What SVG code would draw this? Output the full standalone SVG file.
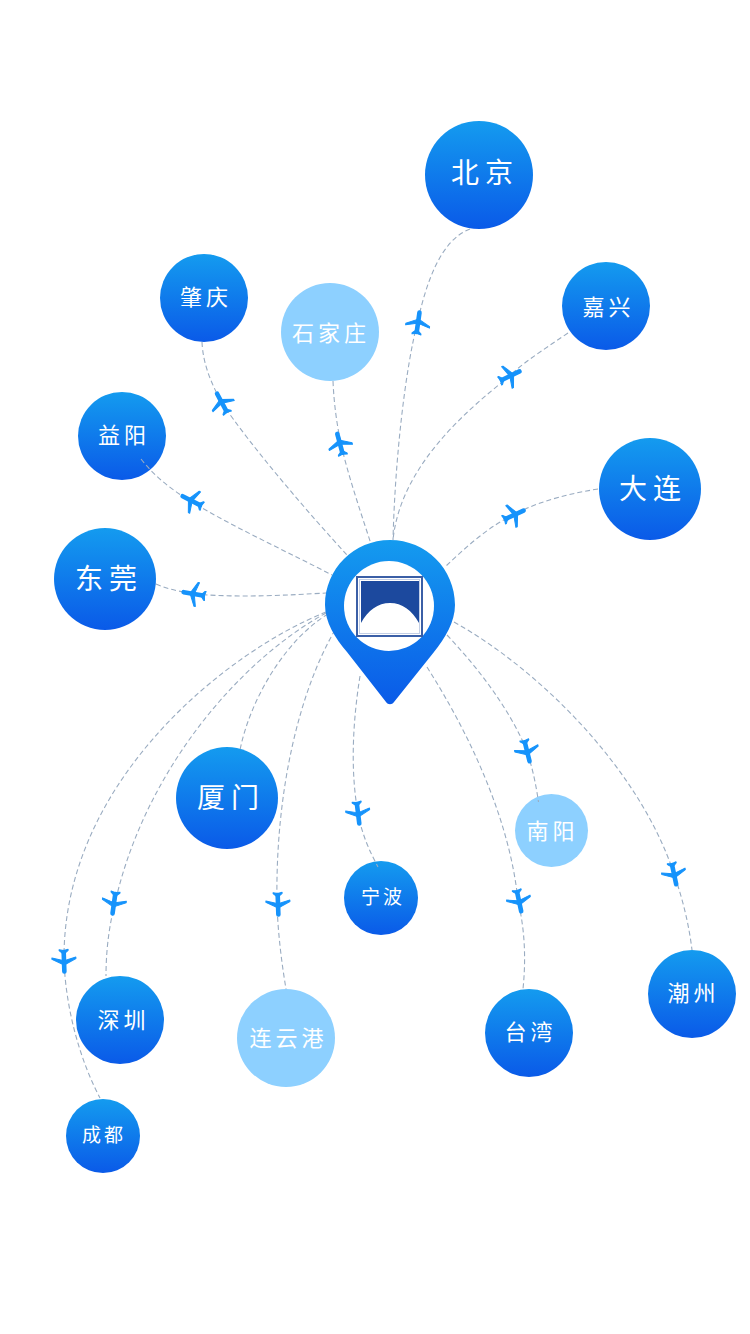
<svg xmlns="http://www.w3.org/2000/svg" width="750" height="1334" viewBox="0 0 750 1334">
<style>
.lk{fill:none;stroke:#9aacc1;stroke-width:1.1;stroke-dasharray:5 3}
.t{fill:#fff;font-family:"Noto Sans CJK SC","Noto Sans",sans-serif;text-anchor:middle;dominant-baseline:central}
.s1{font-size:22px;letter-spacing:4px}
.s2{font-size:28px;letter-spacing:6px}
.s4{font-size:19px;letter-spacing:3px}
.lt{fill:#8dd0ff}
.b{fill:none;stroke:#1693fb;stroke-width:4.600;stroke-linecap:round}
.w{fill:#1693fb;stroke:#1693fb;stroke-width:1;stroke-linecap:round;stroke-linejoin:round}
</style>
<defs>
<linearGradient id="g" x1="0" y1="0" x2="0" y2="1"><stop offset="0" stop-color="#149bef"/><stop offset="1" stop-color="#0a5ae8"/></linearGradient>
<linearGradient id="gp" gradientUnits="userSpaceOnUse" x1="0" y1="540" x2="0" y2="705"><stop offset="0" stop-color="#149bef"/><stop offset="1" stop-color="#0a5ae8"/></linearGradient>
<filter id="soft" x="-5%" y="-5%" width="110%" height="110%"><feGaussianBlur stdDeviation="0.6"/></filter>
<g id="p"><path class="b" d="M0-10.500V9"/><path class="w" d="M-1-3.500L-12 2L-12 3.500L-1 0.500ZM1-3.500L12 2L12 3.500L1 0.500ZM-1 7.500L-4.500 10.500L-4.500 11.500L0 10.500L4.500 11.500L4.500 10.500L1 7.500Z"/></g>
</defs>
<g id="n-beijing"><circle cx="479" cy="175" r="54" fill="url(#g)"/><text class="t s2" x="485" y="171">北京</text></g>
<g id="n-jiaxing"><circle cx="606" cy="306" r="44" fill="url(#g)"/><text class="t s1" x="608.500" y="305">嘉兴</text></g>
<g id="n-zhaoqing"><circle cx="204" cy="298" r="44" fill="url(#g)"/><text class="t s1" x="206" y="295">肇庆</text></g>
<g id="n-shijiazhuang"><circle cx="330" cy="332" r="49" class="lt"/><text class="t s1" x="331" y="331">石家庄</text></g>
<g id="n-yiyang"><circle cx="122" cy="436" r="44" fill="url(#g)"/><text class="t s1" x="124" y="433">益阳</text></g>
<g id="n-dalian"><circle cx="650" cy="489" r="51" fill="url(#g)"/><text class="t s2" x="653" y="487">大连</text></g>
<g id="n-dongguan"><circle cx="105" cy="579" r="51" fill="url(#g)"/><text class="t s2" x="109" y="577">东莞</text></g>
<g id="n-xiamen"><circle cx="227" cy="798" r="51" fill="url(#g)"/><text class="t s2" x="231" y="796">厦门</text></g>
<g id="n-nanyang"><circle cx="551.500" cy="830.500" r="36.500" class="lt"/><text class="t s1" x="552.500" y="829">南阳</text></g>
<g id="n-ningbo"><circle cx="381" cy="898" r="37" fill="url(#g)"/><text class="t s4" x="383" y="895">宁波</text></g>
<g id="n-chaozhou"><circle cx="692" cy="994" r="44" fill="url(#g)"/><text class="t s1" x="693.500" y="991">潮州</text></g>
<g id="n-shenzhen"><circle cx="120" cy="1020" r="44" fill="url(#g)"/><text class="t s1" x="123.500" y="1018">深圳</text></g>
<g id="n-taiwan"><circle cx="529" cy="1033" r="44" fill="url(#g)"/><text class="t s1" x="530.500" y="1030">台湾</text></g>
<g id="n-lianyungang"><circle cx="286" cy="1038" r="49" class="lt"/><text class="t s1" x="288.500" y="1036">连云港</text></g>
<g id="n-chengdu"><circle cx="103" cy="1136" r="37" fill="url(#g)"/><text class="t s4" x="104" y="1133">成都</text></g>
<g id="connectors">
<path class="lk" d="M470 229C440 240 426 285 418 320C405 370 395 460 393 540"/>
<path class="lk" d="M568 333C540 352 520 365 510 376C460 415 400 470 393 540"/>
<path class="lk" d="M598 489C560 495 530 505 514 515C490 525 465 548 445 567"/>
<path class="lk" d="M202 342C203 365 212 385 222 403C250 445 310 515 348 556"/>
<path class="lk" d="M333 381C334 405 337 425 341 444C348 475 360 510 371 544"/>
<path class="lk" d="M141 459C155 477 172 490 192 502C235 528 290 553 332 575"/>
<path class="lk" d="M156 584C170 590 183 592 195 594C240 598 290 595 326 593"/>
<path class="lk" d="M326 612C230 650 62 780 64 961C66 1010 80 1060 100 1098"/>
<path class="lk" d="M326 613C240 660 145 770 115 903C108 930 106 955 106 976"/>
<path class="lk" d="M328 614C285 640 250 700 240 750"/>
<path class="lk" d="M335 630C300 690 275 790 277 904C278 935 282 965 286 989"/>
<path class="lk" d="M360 676C353 720 350 770 358 813C362 835 370 852 378 867"/>
<path class="lk" d="M427 667C470 735 510 820 518 901C525 930 526 960 523 989"/>
<path class="lk" d="M447 635C480 670 510 710 527 751C533 770 536 785 538.500 802"/>
<path class="lk" d="M454 622C540 670 640 770 674 874C683 900 689 925 692 950"/>
</g>
<g id="planes">
<use href="#p" transform="translate(418 323) rotate(8)"/>
<use href="#p" transform="translate(510 376) rotate(64)"/>
<use href="#p" transform="translate(514 515) rotate(65)"/>
<use href="#p" transform="translate(222 403) rotate(-28)"/>
<use href="#p" transform="translate(340 444) rotate(-15)"/>
<use href="#p" transform="translate(192 501) rotate(-63)"/>
<use href="#p" transform="translate(194 594) rotate(-80)"/>
<use href="#p" transform="translate(64 961) rotate(178)"/>
<use href="#p" transform="translate(114 903) rotate(188)"/>
<use href="#p" transform="translate(278 904) rotate(178)"/>
<use href="#p" transform="translate(358 813) rotate(173)"/>
<use href="#p" transform="translate(519 901) rotate(168)"/>
<use href="#p" transform="translate(527 751) rotate(166)"/>
<use href="#p" transform="translate(674 874) rotate(168)"/>
</g>
<g id="pin">
<path fill="url(#gp)" d="M390 540C426 540 455 569 455 605C455 622 445 638 434 652L394 702C392 705 388 705 386 702L347 652C335 638 325 622 325 605C325 569 354 540 390 540Z"/>
<circle cx="389" cy="606" r="45" fill="#fff"/>
<g filter="url(#soft)">
<rect x="357" y="577" width="65" height="59" fill="#fff" stroke="#3a5ea6" stroke-width="2"/>
<rect x="359.500" y="579.500" width="60" height="54" fill="none" stroke="#c3cfe6" stroke-width="1"/>
<path fill="#1a4a9e" d="M361 581H419V623C412 610 402 603 390 603C378 603 368 610 361 623Z"/>
</g>
</g>
</svg>
